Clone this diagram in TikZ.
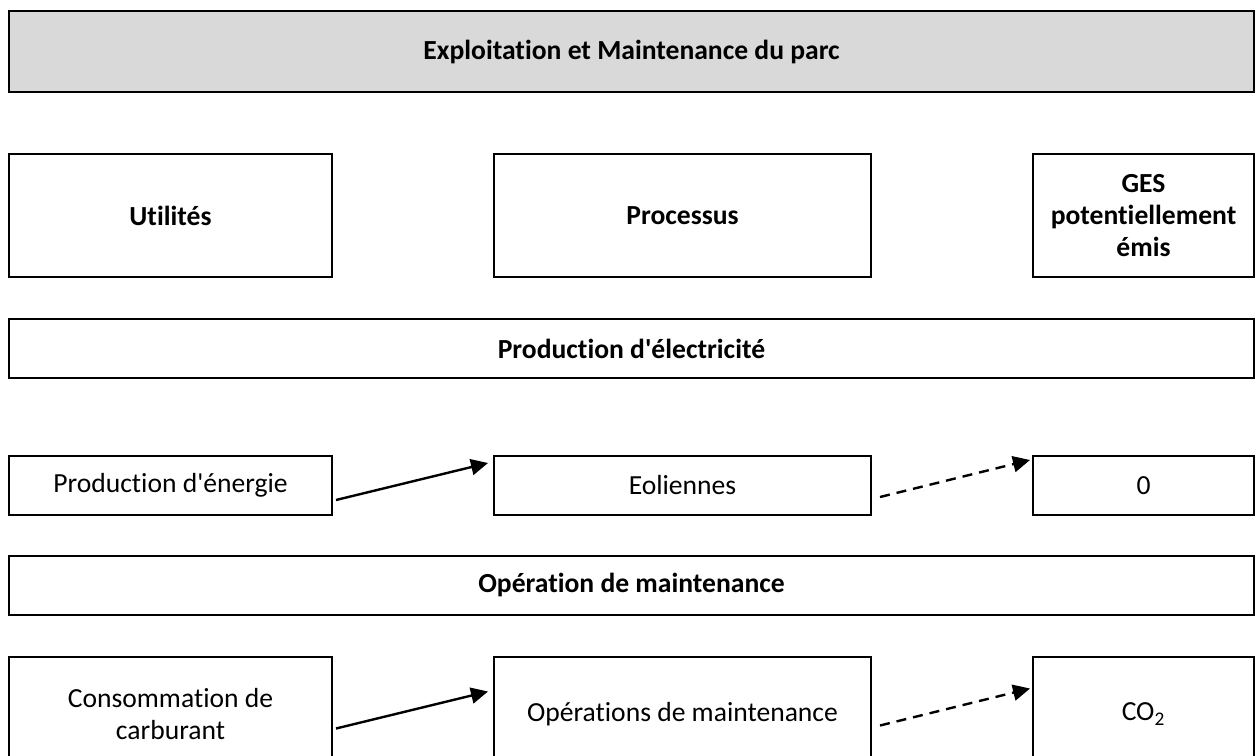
\documentclass[tikz,border=0pt]{standalone}
\usepackage{fontspec}
\setmainfont{Carlito}[Ligatures={TeXOff,NoCommon}]
\usepackage{xcolor}
\usetikzlibrary{arrows.meta, positioning}

\definecolor{headgray}{HTML}{D9D9D9}
\newcommand{\boxfont}{\fontsize{13.8}{16}\selectfont}

\begin{document}
\begin{tikzpicture}[
    x=0.5pt, y=-0.5pt,
    box/.style={rectangle, draw, line width=1pt, inner sep=2pt, align=center, font=\boxfont},
    header/.style={box, fill=headgray, minimum width=622.5pt, minimum height=40.5pt, font=\boxfont\bfseries},
    bar/.style={box, minimum width=622.5pt, minimum height=29.5pt, font=\boxfont\bfseries},
    colhead/.style={box, minimum height=61.5pt, font=\boxfont\bfseries},
    item/.style={box, minimum height=29.5pt},
    colA/.style={minimum width=161.5pt},
    colB/.style={minimum width=188.5pt},
    colC/.style={minimum width=110.5pt},
    arrow/.style={-{Triangle[length=8.5pt, width=8pt]}, line width=1.2pt},
    dasharrow/.style={arrow, dash pattern=on 5pt off 3.5pt},
]
\useasboundingbox (0,0) rectangle (1256,755);
\clip (0,0) rectangle (1256,755);

% Header and column titles
\node[header]        (title)     at (631.5,51.5)  {Exploitation et Maintenance du parc};
\node[colhead, colA] (utilites)  at (170.5,215.5) {Utilités};
\node[colhead, colB] (processus) at (682.5,215.5) {Processus};
\node[colhead, colC] (ges)       at (1143.5,215.5) {GES\\potentiellement\\émis};

% Production d'electricite
\node[bar]        (prodelec)  at (631.5,348.5) {Production d'électricité};
\node[item, colA] (energie)   at (170.5,485.5) {Production d'énergie};
\node[item, colB] (eoliennes) at (682.5,485.5) {Eoliennes};
\node[item, colC] (zero)      at (1143.5,485.5) {0};

% Operation de maintenance
\node[bar]                              (operation) at (631.5,585) {Opération de maintenance};
\node[item, colA, minimum height=57pt]  (carburant) at (170.5,714) {Consommation de\\carburant};
\node[item, colB, minimum height=57pt]  (opmaint)   at (682.5,714) {Opérations de maintenance};
\node[item, colC, minimum height=57pt]  (co2)       at (1143.5,714) {CO\textsubscript{2}};

% Flows
\draw[arrow]     ([xshift=1.5pt, yshift=-7.25pt]energie.east)  -- ([xshift=-2.5pt, yshift=11.25pt]eoliennes.west);
\draw[dasharrow] ([xshift=4pt, yshift=-5.75pt]eoliennes.east)  -- ([xshift=-1pt, yshift=12.75pt]zero.west);
\draw[arrow]     ([xshift=1.5pt, yshift=-7.25pt]carburant.east) -- ([xshift=-2.5pt, yshift=11.25pt]opmaint.west);
\draw[dasharrow] ([xshift=4pt, yshift=-5.75pt]opmaint.east)    -- ([xshift=-1pt, yshift=12.75pt]co2.west);

\end{tikzpicture}
\end{document}
